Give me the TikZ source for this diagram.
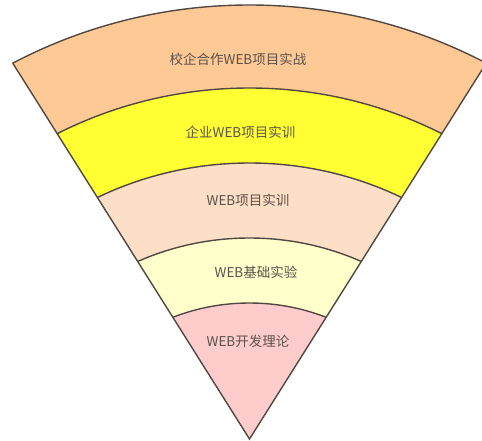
\documentclass[tikz,border=0pt]{standalone}
\usepackage{fontspec}
\newfontfamily\cjk{Noto Sans CJK SC}
\definecolor{bandA}{RGB}{255,201,150}
\definecolor{bandB}{RGB}{255,255,51}
\definecolor{bandC}{RGB}{253,222,198}
\definecolor{bandD}{RGB}{255,255,204}
\definecolor{bandE}{RGB}{255,204,204}
\definecolor{edge}{RGB}{80,72,66}
\definecolor{txt}{RGB}{90,82,74}
\begin{document}
\begin{tikzpicture}[x=1pt,y=-1pt,
  band/.style={draw=edge,line width=1.4pt},
  lbl/.style={font=\cjk\fontsize{13.5}{16}\selectfont,text=txt,inner sep=0pt},
  rim/.style={draw=edge,line width=1.4pt,line cap=round}]
\useasboundingbox (0,0) rectangle (482,440);
\coordinate (apex) at (249.5,439);
\coordinate (ctr) at (249.5,515);
\coordinate (L) at (12.8,63.2);
\coordinate (R) at (486.2,63.2);
\begin{scope}
  \clip (apex) -- (-191.3,-261) -- (690.3,-261) -- cycle;
  \path[band,fill=bandA] (ctr) circle[radius=510];
  \path[band,fill=bandB] (ctr) circle[radius=427];
  \path[band,fill=bandC] (ctr) circle[radius=352];
  \path[band,fill=bandD] (ctr) circle[radius=277];
  \path[band,fill=bandE] (ctr) circle[radius=212];
\end{scope}
\draw[rim] (L) -- (apex) -- (R);
\node[lbl] (t1) at (238,59) {校企合作WEB项目实战};
\node[lbl] (t2) at (240.5,132) {企业WEB项目实训};
\node[lbl] (t3) at (248,200) {WEB项目实训};
\node[lbl] (t4) at (256,272) {WEB基础实验};
\node[lbl] (t5) at (248,341) {WEB开发理论};
\end{tikzpicture}
\end{document}
